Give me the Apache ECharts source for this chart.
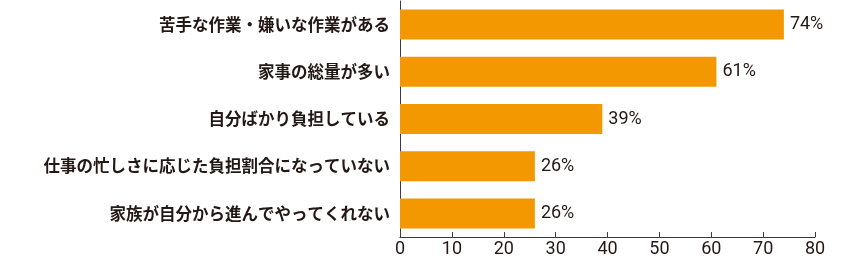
<!DOCTYPE html>
<html><head><meta charset="utf-8">
<script src="https://cdn.jsdelivr.net/npm/echarts@6/dist/echarts.min.js"></script>
<style>html,body{margin:0;padding:0;background:#fff}#c{width:850px;height:260px}</style>
</head><body><div id="c"></div>
<script>
const categories = ['苦手な作業・嫌いな作業がある','家事の総量が多い','自分ばかり負担している','仕事の忙しさに応じた負担割合になっていない','家族が自分から進んでやってくれない'];
const values = [74, 61, 39, 26, 26];
const xTicks = [0,10,20,30,40,50,60,70,80];
const chart = echarts.init(document.getElementById('c'));
chart.setOption({
  animation:false,
  grid:{left:400,right:35,top:1,bottom:23,containLabel:false},
  xAxis:{type:'value',min:0,max:80,interval:10,
    axisLine:{show:true,lineStyle:{color:'#3e3a39',width:1}},
    axisTick:{show:true,inside:true,length:5,lineStyle:{color:'#3e3a39'}},
    splitLine:{show:false},
    axisLabel:{margin:3,fontSize:18,color:'#231815',fontFamily:'Roboto',formatter:v=>xTicks.includes(v)?String(v):''}},
  yAxis:{type:'category',data:categories,inverse:true,
    axisLine:{show:true,lineStyle:{color:'#3e3a39',width:1}},
    axisTick:{show:false},
    axisLabel:{margin:10,fontSize:16.5,fontWeight:'bold',color:'#231815',fontFamily:'Noto Sans CJK JP'}},
  series:[{type:'bar',data:values,barWidth:30,itemStyle:{color:'#F39800'},
    label:{show:true,position:'right',distance:6,formatter:'{c}%',fontSize:18,color:'#231815',fontFamily:'Roboto'}}]
});
</script></body></html>
